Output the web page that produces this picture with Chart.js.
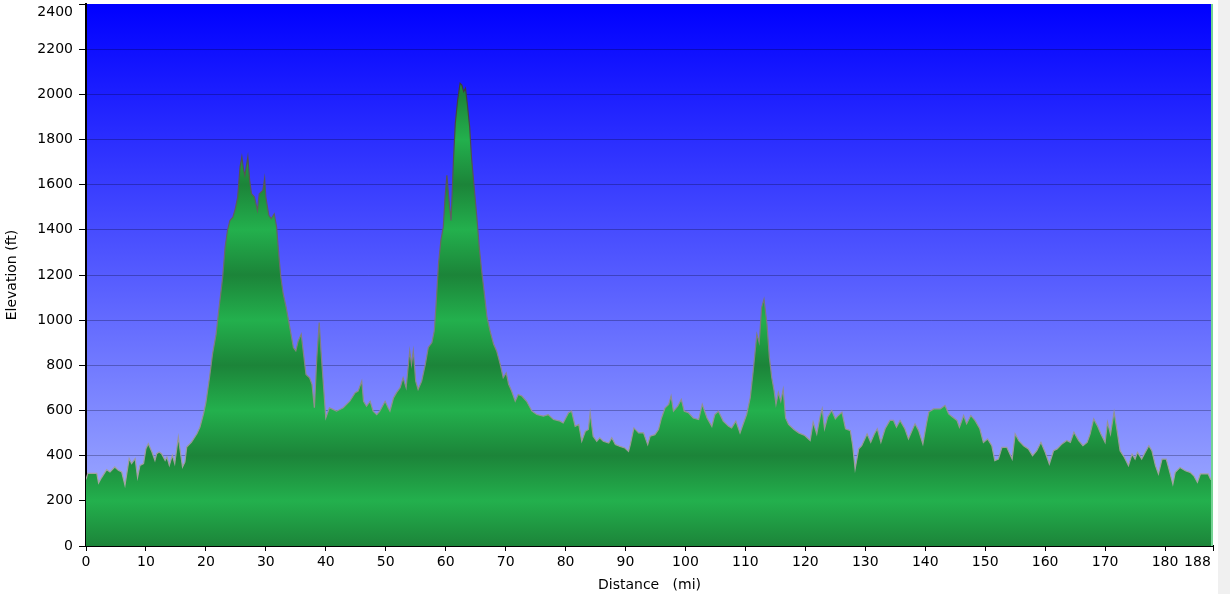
<!DOCTYPE html>
<html><head><meta charset="utf-8">
<script src="https://cdn.jsdelivr.net/npm/chart.js@4"></script>
<style>
html,body{margin:0;padding:0;background:#fff;}
#wrap{position:relative;width:1230px;height:594px;}
</style></head><body>
<div id="wrap"><canvas id="c" width="1230" height="594"></canvas></div>
<script>
const distanceMi = [
0.0,0.3,1.8,2.1,2.6,3.45,4.0,4.8,5.4,5.95,6.5,7.2,7.6,8.2,8.6,9.0,9.6,10.0,10.4,11.0,11.5,11.8,12.2,12.6,13.2,13.5,13.9,14.4,14.8,15.4,15.7,16.1,16.5,16.8,17.6,18.5,19.0,19.6,
20.0,20.6,21.1,21.7,22.2,22.8,23.2,23.6,24.0,24.5,24.9,25.3,25.7,26.0,26.3,26.5,27.0,27.3,27.6,28.1,28.6,28.9,29.5,29.8,30.0,30.5,30.9,31.4,31.8,32.1,32.5,32.9,33.4,33.8,34.2,34.6,35.0,35.4,35.9,36.3,36.7,37.3,37.7,38.1,38.5,38.9,39.2,39.6,40.0,40.6,
41.2,41.8,42.9,44.0,44.9,45.4,46.0,46.3,46.8,47.4,47.9,48.5,49.0,49.9,50.4,50.7,51.3,51.8,52.4,52.9,53.4,54.0,54.3,54.6,55.0,55.4,56.0,56.6,57.1,57.7,58.1,58.4,58.8,59.2,59.6,59.9,
60.2,60.6,60.9,61.3,61.6,62.0,62.4,62.7,63.0,63.3,63.6,64.0,64.3,64.7,65.2,65.6,66.0,66.4,66.9,67.4,68.0,68.5,69.1,69.6,70.1,70.5,71.0,71.6,72.1,72.7,73.5,74.4,75.2,76.3,77.1,78.0,79.1,
79.6,80.5,81.0,81.6,82.2,82.7,83.3,83.8,84.1,84.6,85.2,85.7,86.3,87.2,87.7,88.3,89.1,89.9,90.5,90.8,91.4,92.2,93.0,93.7,94.1,94.9,95.5,96.0,96.6,97.2,97.6,98.0,98.7,99.3,99.8,
100.5,101.3,102.2,102.8,103.6,104.4,104.9,105.5,106.3,107.2,107.7,108.4,109.1,109.6,110.2,110.8,111.3,111.9,112.3,112.7,113.1,113.6,114.0,114.4,114.8,115.1,115.5,115.9,116.3,116.7,117.2,118.1,118.9,
119.9,120.8,121.3,121.9,122.5,122.8,123.2,123.7,124.4,125.0,125.5,126.1,126.7,127.5,127.9,128.3,128.9,129.4,130.3,130.9,131.5,132.0,132.6,133.3,134.1,134.7,135.2,135.8,136.6,137.2,137.8,138.3,138.9,139.6,
140.2,140.6,141.4,142.5,143.3,143.9,144.6,145.3,145.7,146.4,146.9,147.6,148.3,149.1,149.7,150.4,151.1,151.6,152.2,152.8,
153.6,154.5,155.0,155.6,156.4,157.2,157.9,158.6,159.3,160.0,160.7,161.4,162.0,162.8,163.6,164.2,164.8,165.6,166.3,167.0,167.5,168.1,168.7,169.3,170.0,170.4,170.9,171.5,172.0,172.5,173.2,173.9,174.5,
175.0,175.4,176.1,176.7,177.3,177.8,178.4,178.9,179.5,180.2,180.8,181.3,181.7,182.5,183.4,184.2,184.8,185.4,185.9,186.7,187.2,187.6,188.0
];
const elevationFt = [
295,322,322,279,303,338,328,350,335,328,269,387,365,387,303,357,365,431,453,416,379,409,416,409,379,394,357,401,365,482,424,350,372,438,460,497,526,585,
635,745,849,938,1056,1190,1323,1397,1441,1456,1493,1545,1679,1723,1664,1641,1723,1619,1560,1545,1486,1560,1575,1627,1545,1464,1449,1471,1412,1308,1190,1116,1056,997,938,879,864,908,938,849,760,745,716,612,834,990,864,716,567,612,
605,597,612,641,679,686,730,641,619,641,597,582,597,641,612,597,656,679,701,745,701,864,804,864,730,693,730,804,879,901,953,1071,1249,1353,1412,1545,
1641,1516,1441,1708,1871,1975,2049,2041,2012,2027,1960,1856,1723,1604,1456,1323,1219,1130,1012,953,893,864,804,745,767,716,686,641,671,664,641,597,582,575,582,560,553,
545,590,597,530,538,464,508,516,590,486,464,479,464,456,479,449,441,434,419,449,523,501,501,449,486,493,516,567,612,627,664,597,619,649,597,
590,567,560,627,567,530,582,597,553,530,523,553,501,538,582,656,775,938,901,1056,1093,982,834,745,686,627,679,641,693,567,538,516,501,
489,467,548,496,578,607,519,570,600,563,578,593,519,511,444,341,430,444,496,459,496,519,459,519,556,556,526,556,519,474,511,541,511,452,
541,593,607,607,622,585,570,556,526,578,541,578,556,519,459,474,444,378,385,437,
437,385,496,467,444,430,400,422,459,415,363,422,430,452,467,459,504,467,444,459,496,563,533,496,459,548,496,593,511,422,393,356,407,
385,415,385,415,444,422,356,319,385,385,326,274,326,348,333,326,311,282,319,319,319,296,300
];
const xTickValues = [0,10,20,30,40,50,60,70,80,90,100,110,120,130,140,150,160,170,180,188];
const yTickValues = [0,200,400,600,800,1000,1200,1400,1600,1800,2000,2200,2400];
const xTitle = 'Distance   (mi)';
const yTitle = 'Elevation (ft)';

const FONT = {family:'"DejaVu Sans", Verdana, sans-serif', size:14};

const bgPlugin = {
  id:'bgPlugin',
  beforeDraw(chart){
    const {ctx, chartArea:a} = chart;
    if(!a) return;
    ctx.save();
    ctx.fillStyle = '#f0f0f0';
    ctx.fillRect(chart.width-12, 0, 12, chart.height);
    const g = ctx.createLinearGradient(0, a.top, 0, a.bottom);
    g.addColorStop(0, 'rgb(0,0,255)');
    g.addColorStop(1, 'rgb(170,183,255)');
    ctx.fillStyle = g;
    ctx.fillRect(a.left, a.top, a.right-a.left, a.bottom-a.top);
    ctx.restore();
  },
  afterDatasetsDraw(chart){
    const {ctx, chartArea:a} = chart;
    ctx.save();
    ctx.strokeStyle = '#74d394';
    ctx.lineWidth = 2;
    ctx.beginPath();
    ctx.moveTo(a.right-1, a.top);
    ctx.lineTo(a.right-1, a.bottom);
    ctx.stroke();
    ctx.restore();
  }
};

function fillGradient(context){
  const chart = context.chart;
  const a = chart.chartArea;
  if(!a) return '#22ae4b';
  const y = chart.scales.y;
  const g = chart.ctx.createLinearGradient(0, y.getPixelForValue(0), 0, y.getPixelForValue(2400));
  for(let v=0; v<=2400; v+=200){
    g.addColorStop(v/2400, (v/200)%2===0 ? '#1c8439' : '#23b04d');
  }
  return g;
}
function lineGradient(context){
  const chart = context.chart;
  const a = chart.chartArea;
  if(!a) return '#888';
  const g = chart.ctx.createLinearGradient(0, a.top, 0, a.bottom);
  g.addColorStop(0, 'rgb(40,40,40)');
  g.addColorStop(0.5, 'rgb(110,110,110)');
  g.addColorStop(1, 'rgb(180,180,180)');
  return g;
}

new Chart(document.getElementById('c'), {
  type:'line',
  data:{
    datasets:[{
      data: distanceMi.map((d,i)=>({x:d, y:elevationFt[i]})),
      fill:'origin',
      pointRadius:0,
      borderWidth:1.2,
      borderColor: lineGradient,
      backgroundColor: fillGradient,
      tension:0
    }]
  },
  options:{
    responsive:false,
    devicePixelRatio:1,
    animation:false,
    layout:{padding:{left:0, top:4, right:17, bottom:0}},
    plugins:{legend:{display:false}, tooltip:{enabled:false}},
    scales:{
      x:{
        type:'linear', min:0, max:188,
        afterBuildTicks: s => { s.ticks = xTickValues.map(v=>({value:v})); },
        afterFit: s => { s.height = 48; s.paddingLeft = 0; s.paddingRight = 0; },
        ticks:{autoSkip:false, maxRotation:0, color:'#000', font:FONT, padding:3,
          callback:(v,i,arr)=> i===arr.length-1 ? String(v)+'       ' : String(v)},
        grid:{display:true, drawOnChartArea:false, drawTicks:true, tickLength:5, tickColor:'#000', tickWidth:1},
        border:{display:true, color:'#000', width:2},
        title:{display:true, text:xTitle, color:'#000', font:FONT, padding:{top:0,bottom:0}}
      },
      y:{
        type:'linear', min:0, max:2400, z:1,
        afterBuildTicks: s => { s.ticks = yTickValues.map(v=>({value:v})); },
        afterFit: s => { s.width = 86; s.paddingTop = 0; s.paddingBottom = 0; },
        ticks:{color:'#000', font:FONT, padding:6,
          callback:(v,i,arr)=> i===arr.length-1 ? ['', String(v)] : String(v)},
        grid:{color: c => (c.tick && c.tick.value===2400) ? 'rgba(0,0,0,0)' : 'rgba(0,0,30,0.28)', lineWidth:1, drawTicks:true, tickLength:7, tickColor:'#000', tickWidth:1},
        border:{display:true, color:'#000', width:2},
        title:{display:true, text:yTitle, color:'#000', font:FONT, padding:{top:4,bottom:4}}
      }
    }
  },
  plugins:[bgPlugin]
});
</script>
</body></html>
